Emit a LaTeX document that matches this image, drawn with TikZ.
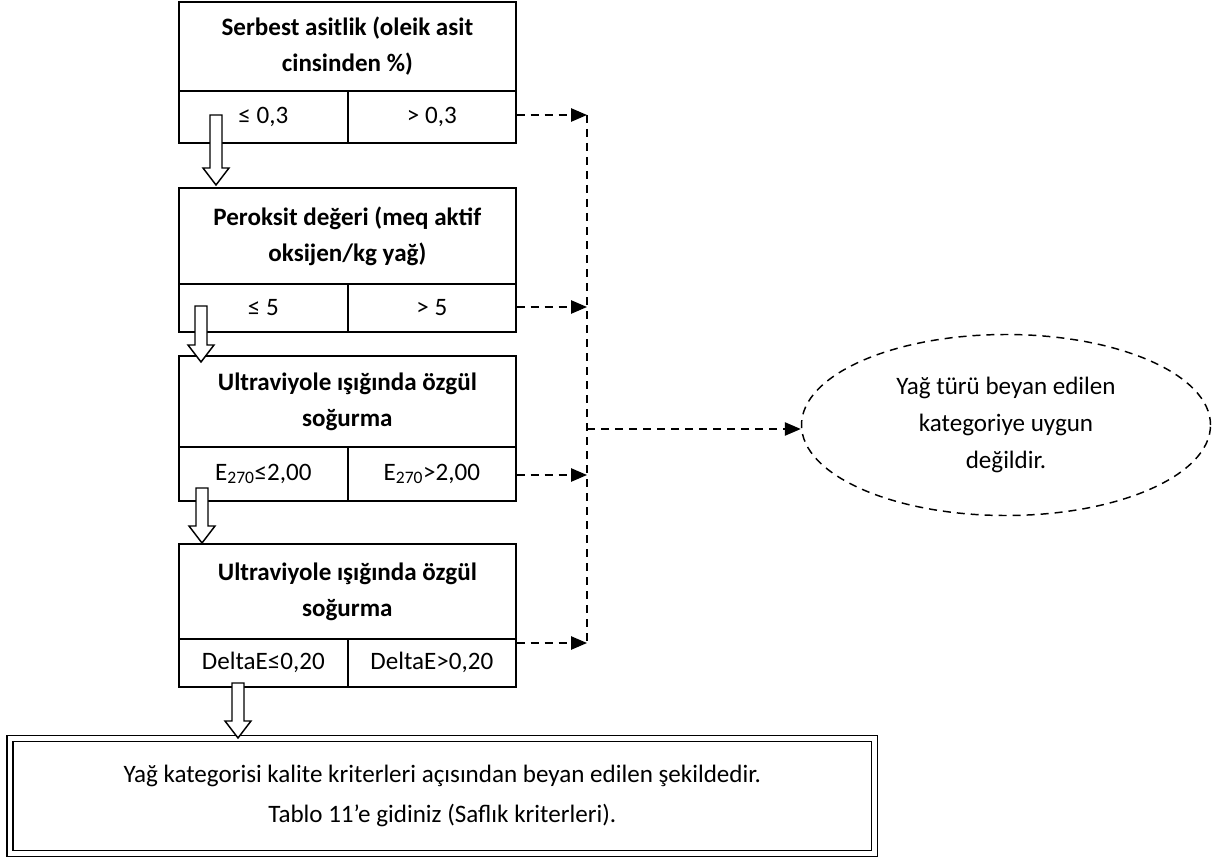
\documentclass[tikz,border=0pt]{standalone}
\usepackage{fontspec}
\setmainfont{Carlito}
\usetikzlibrary{arrows.meta,shapes.geometric,calc}

% hollow block arrow pointing down: #1 start of shaft, #2 tip
\newcommand\hollowdown[2]{%
  \draw[hollow] let \p1=(#1), \p2=(#2) in
    (\x1-4.5pt,\y1) -- (\x1+4.5pt,\y1) -- (\x1+4.5pt,\y2+12.75pt)
    -- (\x1+9.75pt,\y2+12.75pt) -- (\x1,\y2) -- (\x1-9.75pt,\y2+12.75pt)
    -- (\x1-4.5pt,\y2+12.75pt) -- cycle;}

\begin{document}
\begin{tikzpicture}[x=0.75pt,y=-0.75pt,
  head/.style={draw, line width=1.3pt, inner sep=0pt, align=center,
    anchor=north west, minimum width=252.75pt,
    font=\fontsize{18.8}{27}\selectfont\bfseries},
  cell/.style={draw, line width=1.3pt, inner sep=0pt, anchor=north west,
    font=\fontsize{18.8}{22}\selectfont},
  lcell/.style={cell, minimum width=126.75pt},
  rcell/.style={cell, minimum width=126pt},
  hollow/.style={draw, line width=1.1pt, fill=white, line join=miter},
  dashline/.style={line width=1.1pt, dash pattern=on 6pt off 4.5pt},
  tip/.style={-{Triangle[length=12pt,width=10pt]}}
]
\useasboundingbox (0,0) rectangle (1219,859);

% criterion 1
\node[head, minimum height=66.75pt] (h1) at (178,1) {Serbest asitlik (oleik asit\\cinsinden \%)};
\node[lcell, minimum height=39pt] (c1l) at (178,90) {≤ 0,3};
\node[rcell, minimum height=39pt] (c1r) at (347,90) {> 0,3};

% criterion 2
\node[head, minimum height=72pt] (h2) at (178,187) {Peroksit değeri (meq aktif\\oksijen/kg yağ)};
\node[lcell, minimum height=36pt] (c2l) at (178,283) {≤ 5};
\node[rcell, minimum height=36pt] (c2r) at (347,283) {> 5};

% criterion 3
\node[head, minimum height=68.25pt] (h3) at (178,355) {Ultraviyole ışığında özgül\\soğurma};
\node[lcell, minimum height=40.5pt] (c3l) at (178,446) {E\textsubscript{270}≤2,00};
\node[rcell, minimum height=40.5pt] (c3r) at (347,446) {E\textsubscript{270}>2,00};

% criterion 4
\node[head, minimum height=71.25pt] (h4) at (178,543) {Ultraviyole ışığında özgül\\soğurma};
\node[lcell, minimum height=36pt] (c4l) at (178,638) {DeltaE≤0,20};
\node[rcell, minimum height=36pt] (c4r) at (347,638) {DeltaE>0,20};

% result: category confirmed
\node[draw, double, line width=1.35pt, double distance=3.15pt,
  minimum width=648.4pt, minimum height=86.25pt, inner sep=0pt,
  align=center, font=\fontsize{18.8}{30}\selectfont] (ok) at (442.25,796)
  {Yağ kategorisi kalite kriterleri açısından beyan edilen şekildedir.\\Tablo 11’e gidiniz (Saflık kriterleri).};

% result: category rejected
\node[ellipse, draw, dashline, minimum width=306.75pt, minimum height=135.75pt,
  inner sep=0pt, align=center, font=\fontsize{18.8}{28}\selectfont] (no) at (1006,425)
  {Yağ türü beyan edilen\\kategoriye uygun\\değildir.};

% pass arrows
\coordinate (a1s) at (216,115); \coordinate (a1e) at (216,185);
\coordinate (a2s) at (201,306); \coordinate (a2e) at (201,362);
\coordinate (a3s) at (202,488); \coordinate (a3e) at (202,543);
\coordinate (a4s) at (238,683); \coordinate (a4e) at (238,738);
\hollowdown{a1s}{a1e}
\hollowdown{a2s}{a2e}
\hollowdown{a3s}{a3e}
\hollowdown{a4s}{a4e}

% fail connectors
\coordinate (j1) at (587,115);
\coordinate (j2) at (587,307);
\coordinate (j3) at (587,475);
\coordinate (j4) at (587,643);
\coordinate (jm) at (587,429);
\draw[dashline, tip] (c1r.east |- j1) -- (j1);
\draw[dashline, tip] (c2r.east |- j2) -- (j2);
\draw[dashline, tip] (c3r.east |- j3) -- (j3);
\draw[dashline, tip] (c4r.east |- j4) -- (j4);
\draw[dashline] (j1) -- (j4);
\draw[dashline, tip] (jm) -- (jm -| no.west);
\end{tikzpicture}
\end{document}
